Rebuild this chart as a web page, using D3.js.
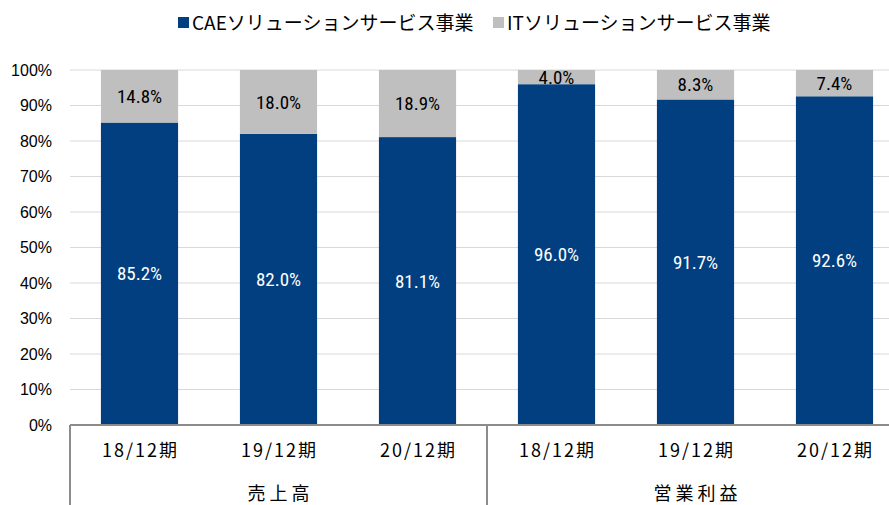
<!DOCTYPE html>
<html>
<head>
<meta charset="utf-8">
<script src="https://cdn.jsdelivr.net/npm/d3@7"></script>
<style>
  body { margin: 0; background: #fff; }
  text { font-family: "Liberation Sans", Arial, "Noto Sans CJK JP", sans-serif; }
  .jp { font-family: "Noto Sans CJK JP", sans-serif; }
  .val { font-family: "Liberation Sans Narrow", "Roboto Condensed", Roboto, sans-serif; }
</style>
</head>
<body>
<script>
const categories = ["18/12期", "19/12期", "20/12期", "18/12期", "19/12期", "20/12期"];
const groups = ["売上高", "営業利益"];
const seriesNames = ["CAEソリューションサービス事業", "ITソリューションサービス事業"];
const caeValues = [85.2, 82.0, 81.1, 96.0, 91.7, 92.6];
const itValues = [14.8, 18.0, 18.9, 4.0, 8.3, 7.4];
const yTicks = [0, 10, 20, 30, 40, 50, 60, 70, 80, 90, 100];
const colors = ["#023f80", "#bfbfbf"];

let size = {width: 889, height: 505};
let plot = {left: 70, right: 904, top: 70, bottom: 425};

let svg = d3.select("body").append("svg")
    .attr("width", size.width)
    .attr("height", size.height);

let x = d3.scaleBand()
    .domain(d3.range(categories.length))
    .range([plot.left, plot.right])
    .paddingInner(0.445)
    .paddingOuter(0.2225);

let y = d3.scaleLinear()
    .domain([0, 100])
    .range([plot.bottom, plot.top]);

// grid
svg.append("g")
    .selectAll("line")
    .data(yTicks.filter(d => d > 0))
    .join("line")
    .attr("x1", plot.left)
    .attr("x2", plot.right)
    .attr("y1", d => y(d))
    .attr("y2", d => y(d))
    .attr("stroke", "#d9d9d9")
    .attr("stroke-width", 1);

// y tick labels
svg.append("g")
    .selectAll("text")
    .data(yTicks)
    .join("text")
    .attr("x", 52)
    .attr("y", d => y(d))
    .attr("dy", "0.35em")
    .attr("text-anchor", "end")
    .attr("font-size", 16)
    .attr("fill", "#000")
    .text(d => d + "%");

let rows = categories.map((c, i) => ({i: i, cae: caeValues[i], it: itValues[i]}));

// CAE bars
svg.append("g")
    .selectAll("rect")
    .data(rows)
    .join("rect")
    .attr("x", d => x(d.i))
    .attr("width", x.bandwidth())
    .attr("y", d => y(d.cae))
    .attr("height", d => y(0) - y(d.cae))
    .attr("fill", colors[0]);

// IT bars
svg.append("g")
    .selectAll("rect")
    .data(rows)
    .join("rect")
    .attr("x", d => x(d.i))
    .attr("width", x.bandwidth())
    .attr("y", d => y(d.cae + d.it))
    .attr("height", d => y(d.cae) - y(d.cae + d.it))
    .attr("fill", colors[1]);

// labels
svg.append("g")
    .selectAll("text")
    .data(rows)
    .join("text")
    .attr("class", "val")
    .attr("x", d => x(d.i) + x.bandwidth() / 2)
    .attr("y", d => (y(0) + y(d.cae)) / 2)
    .attr("dy", "0.35em")
    .attr("text-anchor", "middle")
    .attr("font-size", 19)
    .attr("fill", "#fff")
    .text(d => d.cae.toFixed(1) + "%");

svg.append("g")
    .selectAll("text")
    .data(rows)
    .join("text")
    .attr("class", "val")
    .attr("x", d => x(d.i) + x.bandwidth() / 2)
    .attr("y", d => (y(d.cae) + y(d.cae + d.it)) / 2)
    .attr("dy", "0.35em")
    .attr("text-anchor", "middle")
    .attr("font-size", 19)
    .attr("fill", "#000")
    .text(d => d.it.toFixed(1) + "%");

// axis line and group separators
svg.append("line")
    .attr("x1", plot.left)
    .attr("x2", plot.right)
    .attr("y1", plot.bottom)
    .attr("y2", plot.bottom)
    .attr("stroke", "#8c8c8c")
    .attr("stroke-width", 2);

let step = x.step();
svg.append("g")
    .selectAll("line")
    .data([0, 3, 6])
    .join("line")
    .attr("x1", d => plot.left + d * step)
    .attr("x2", d => plot.left + d * step)
    .attr("y1", plot.bottom)
    .attr("y2", size.height)
    .attr("stroke", "#8c8c8c")
    .attr("stroke-width", 2);

// category labels
svg.append("g")
    .selectAll("text")
    .data(categories)
    .join("text")
    .attr("class", "jp")
    .attr("x", (d, i) => x(i) + x.bandwidth() / 2 + 1)
    .attr("y", 451)
    .attr("dy", "0.35em")
    .attr("text-anchor", "middle")
    .attr("font-size", 18)
    .attr("letter-spacing", 2)
    .attr("fill", "#000")
    .text(d => d);

svg.append("g")
    .selectAll("text")
    .data(groups)
    .join("text")
    .attr("class", "jp")
    .attr("x", (d, i) => plot.left + (i * 3 + 1.5) * step + 2)
    .attr("y", 494)
    .attr("dy", "0.35em")
    .attr("text-anchor", "middle")
    .attr("font-size", 18)
    .attr("letter-spacing", 4)
    .attr("fill", "#000")
    .text(d => d);

// legend
let legend = svg.append("g");
let legendX = [178, 493];
seriesNames.forEach((name, i) => {
    legend.append("rect")
        .attr("x", legendX[i])
        .attr("y", 17)
        .attr("width", 11)
        .attr("height", 11)
        .attr("fill", colors[i]);
    legend.append("text")
        .attr("class", "jp")
        .attr("x", legendX[i] + 14)
        .attr("y", 23)
        .attr("dy", "0.35em")
        .attr("font-size", 19)
        .attr("fill", "#000")
        .text(name);
});
</script>
</body>
</html>
